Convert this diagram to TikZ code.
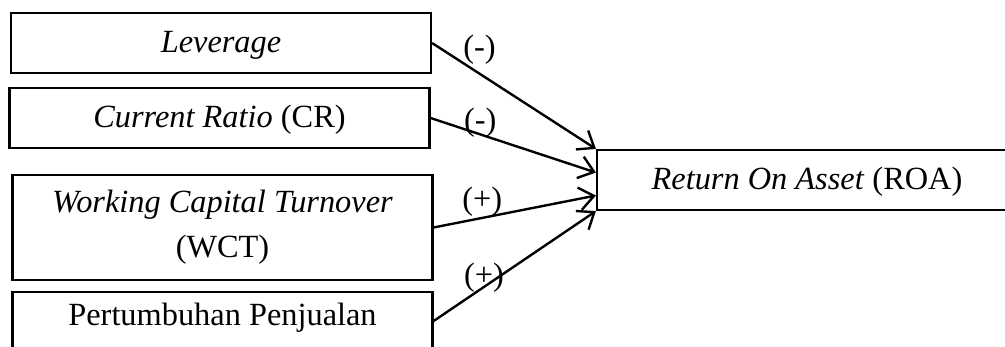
\documentclass[tikz,border=0pt]{standalone}
\usepackage{fontspec}
\setmainfont{Liberation Serif}
\usetikzlibrary{arrows.meta,calc}
\begin{document}
\begin{tikzpicture}[x=0.377pt,y=-0.377pt,
  box/.style={draw, line width=0.8pt, inner sep=0pt, align=center, minimum width={420*0.377pt}},
  onebox/.style={box, minimum height={60*0.377pt}, text height=10pt, text depth=2.7pt},
  conn/.style={line width=0.9pt, -{Straight Barb[length=5.5pt,width=8.5pt]}},
  lbl/.style={inner sep=0pt}]
\useasboundingbox (0,0) rectangle (1005,347);
\clip (0,0) rectangle (1005,347);
\fontsize{12.2}{17}\selectfont
\node[onebox] (lev) at (221,43) {\textit{Leverage}};
\node[onebox] (cr) at (219.5,118) {\textit{Current Ratio} (CR)};
\node[box, minimum height={105*0.377pt}] (wct) at (222.5,227.5) {\textit{Working Capital Turnover}\\(WCT)};
\node[box, anchor=north, text height={33*0.377pt}, text depth={76*0.377pt}] (pp) at (222.5,291) {Pertumbuhan Penjualan};
\node[onebox] (roa) at (807,180) {\textit{Return On Asset} (ROA)};
\draw[conn] (lev.east) -- node[lbl, pos=0.29, yshift=9.0pt] {(-)} (roa.north west);
\draw[conn] (cr.east) -- node[lbl, pos=0.30, yshift=4.3pt] {(-)} ($(roa.north west)!0.38!(roa.south west)$);
\draw[conn] (wct.east) -- node[lbl, pos=0.30, yshift=6.0pt] {(+)} ($(roa.north west)!0.75!(roa.south west)$);
\draw[conn] ([yshift=1.5pt]pp.base east) -- node[lbl, pos=0.31, yshift=3.6pt] {(+)} (roa.south west);
\end{tikzpicture}
\end{document}
